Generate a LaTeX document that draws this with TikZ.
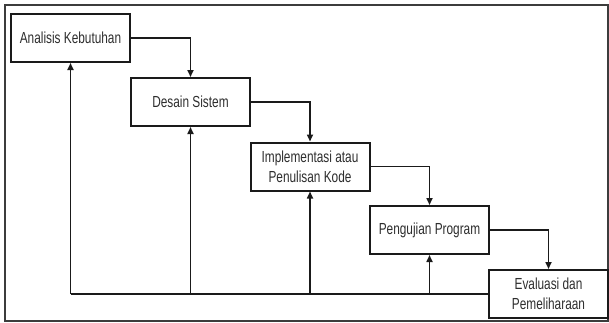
\documentclass[tikz,border=0pt]{standalone}
\usepackage{fontspec}
\setmainfont[FakeStretch=0.74]{Liberation Sans}
\usetikzlibrary{arrows.meta}
\definecolor{ink}{HTML}{1A1A1A}
\definecolor{txt}{HTML}{2E2E2E}
\tikzset{
  phase/.style={draw=ink, line width=2pt, fill=white, minimum width=119pt, minimum height=48pt,
    inner sep=0pt, align=center, text=txt, font=\fontsize{16}{20}\selectfont},
  flow/.style={draw=ink, line width=1.6pt, -{Triangle[length=7pt,width=6pt]}},
  link/.style={draw=ink, line width=1.6pt}
}
\begin{document}
\begin{tikzpicture}[x=1pt,y=-1pt]
\useasboundingbox (0,0) rectangle (609,322);
\draw[draw=ink!85, line width=2pt] (4.5,4.5) rectangle (608,320.5);
\node[phase] (b1) at (70.5,38) {Analisis Kebutuhan};
\node[phase] (b2) at (190.5,102) {Desain Sistem};
\node[phase] (b3) at (310,166.5) {Implementasi atau\\Penulisan Kode};
\node[phase] (b4) at (429.5,230) {Pengujian Program};
\node[phase] (b5) at (548.5,294) {Evaluasi dan\\Pemeliharaan};
% forward flow
\draw[flow] (b1.east) -| (b2.north);
\draw[flow] (b2.east) -| (b3.north);
\draw[flow] (b3.east) -| (b4.north);
\draw[flow] (b4.east) -| (b5.north);
% feedback
\coordinate (c1) at (b1 |- b5.west);
\coordinate (c2) at (b2 |- b5.west);
\coordinate (c3) at (b3 |- b5.west);
\coordinate (c4) at (b4 |- b5.west);
\draw[link] (b5.west) -- (c1);
\draw[flow] (c1) -- (b1.south);
\draw[flow] (c2) -- (b2.south);
\draw[flow] (c3) -- (b3.south);
\draw[flow] (c4) -- (b4.south);
\end{tikzpicture}
\end{document}
